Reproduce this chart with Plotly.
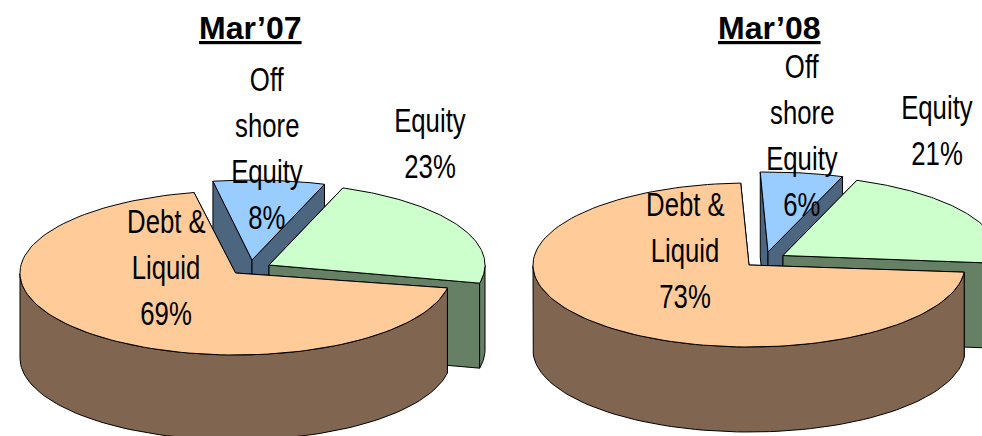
import numpy as np
import plotly.graph_objects as go

# ---- data ----
titles = ["Mar’07", "Mar’08"]
categories = ["Off shore Equity", "Equity", "Debt & Liquid"]
shares_mar07 = [8, 23, 69]
shares_mar08 = [6, 21, 73]
label_lines = [["Off", "shore", "Equity"], ["Equity"], ["Debt &", "Liquid"]]

# ---- styling / geometry ----
TOP = ["#99CCFF", "#CCFFCC", "#FFCC99"]
SIDE = ["#4D6680", "#668066", "#806650"]
W, H = 982, 436
DEPTH = 85
FONT = "Liberation Sans, Arial, sans-serif"

pies = [
    dict(title=titles[0], tx=250.5, shares=shares_mar07,
         starts=[100, 70, -10.5],
         apex=[(252, 260), (269, 265), (235.5, 273)],
         radii=[(225, 80), (216, 82), (215.5, 82)],
         label_x=[267, 430, 166], label_y=[79, 120, 221]),
    dict(title=titles[1], tx=769, shares=shares_mar08,
         starts=[92, 70, -5],
         apex=[(768, 252), (783, 255.5), (749, 265)],
         radii=[(222, 80), (216, 80), (216, 82)],
         label_x=[802, 937, 685], label_y=[66, 107, 204]),
]
LINE_STEP = 46


def poly(fig, x, y, fill):
    fig.add_trace(go.Scatter(
        x=list(x) + [x[0]], y=list(y) + [y[0]], mode="lines", fill="toself",
        fillcolor=fill, line=dict(color="#000000", width=1),
        hoverinfo="skip", showlegend=False))


fig = go.Figure()
annotations = []

for pie in pies:
    for i, share in enumerate(pie["shares"]):
        a0 = pie["starts"][i]
        a1 = a0 - share * 3.6
        cx, cy = pie["apex"][i]
        rx, ry = pie["radii"][i]
        t = np.radians(np.linspace(a0, a1, 120))
        xs = cx + rx * np.cos(t)
        ys = cy - ry * np.sin(t)

        for (ex, ey) in [(xs[0], ys[0]), (xs[-1], ys[-1])]:
            poly(fig, [cx, ex, ex, cx], [cy, ey, ey + DEPTH, cy + DEPTH], SIDE[i])
        mask = np.sin(t) <= 0
        if mask.any():
            wx, wy = xs[mask], ys[mask]
            poly(fig, np.r_[wx, wx[::-1]], np.r_[wy, wy[::-1] + DEPTH], SIDE[i])
        poly(fig, np.r_[cx, xs], np.r_[cy, ys], TOP[i])

    for i, lines in enumerate(label_lines):
        full = lines + [f"{pie['shares'][i]}%"]
        for j, line in enumerate(full):
            annotations.append(dict(
                x=pie["label_x"][i], y=pie["label_y"][i] + j * LINE_STEP,
                text=line, showarrow=False, xanchor="center", yanchor="middle",
                font=dict(family=FONT, size=33, color="#000000")))

    annotations.append(dict(
        x=pie["tx"], y=28, text=f"<b>{pie['title']}</b>", showarrow=False,
        xanchor="center", yanchor="middle",
        font=dict(family=FONT, size=32, color="#000000", lineposition="under")))

fig.update_layout(
    width=W, height=H, margin=dict(l=0, r=0, t=0, b=0),
    paper_bgcolor="#FFFFFF", plot_bgcolor="#FFFFFF", showlegend=False,
    xaxis=dict(range=[0, W], visible=False, fixedrange=True),
    yaxis=dict(range=[H, 0], visible=False, fixedrange=True),
    annotations=annotations,
)

# page margin off; slice labels are condensed horizontally as in the reference
post = """
document.body.style.margin = '0';
document.querySelectorAll('.annotation-text').forEach(function (t) {
  if (t.innerHTML.indexOf('Mar') >= 0) return;
  var b = t.getBBox(), c = b.x + b.width / 2;
  var old = t.getAttribute('transform') || '';
  t.setAttribute('transform', old + ' translate(' + c + ',0) scale(0.78,1) translate(' + (-c) + ',0)');
});
"""
fig.write_html("out.html", config=dict(displayModeBar=False), post_script=post)
